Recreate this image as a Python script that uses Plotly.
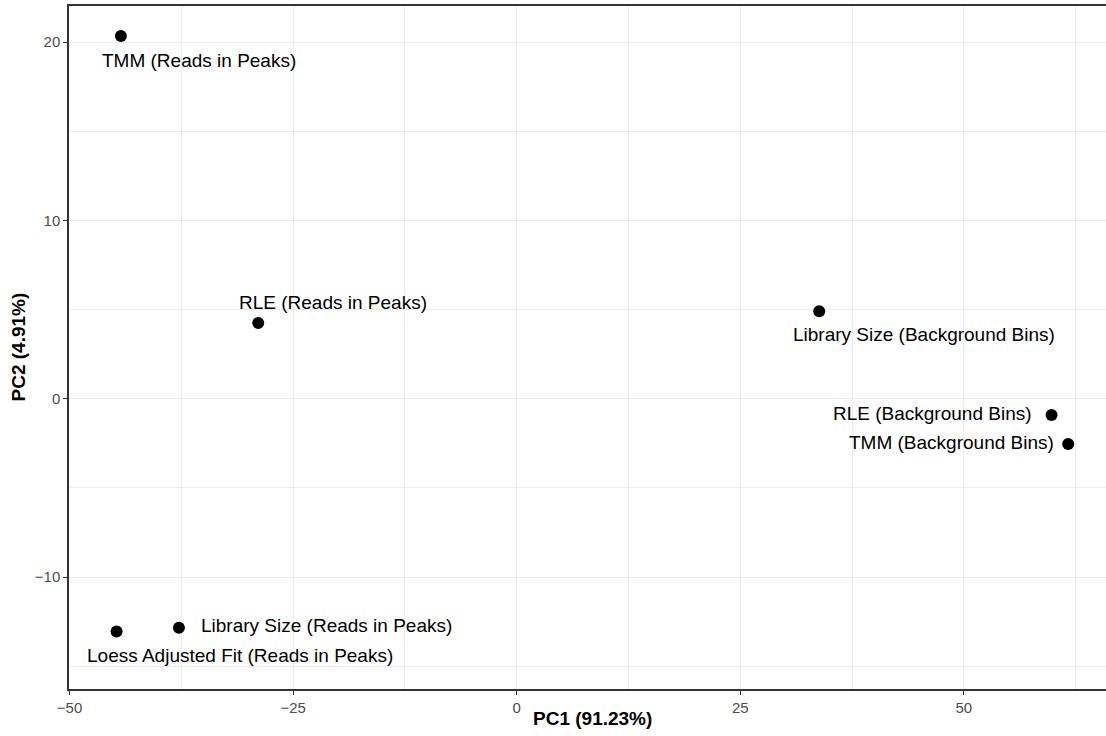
import plotly.graph_objects as go

# ---- data ----
labels = [
    "TMM (Reads in Peaks)",
    "RLE (Reads in Peaks)",
    "Library Size (Background Bins)",
    "RLE (Background Bins)",
    "TMM (Background Bins)",
    "Library Size (Reads in Peaks)",
    "Loess Adjusted Fit (Reads in Peaks)",
]
pc1 = [-44.26, -28.9, 33.83, 59.81, 61.67, -37.77, -44.74]
pc2 = [20.34, 4.24, 4.90, -0.91, -2.54, -12.84, -13.05]

x_title = "PC1 (91.23%)"
y_title = "PC2 (4.91%)"
x_ticks = [-50, -25, 0, 25, 50]
y_ticks = [-10, 0, 10, 20]

# label placement (pixel offsets from point, like ggrepel): (xshift, yshift, xanchor)
label_offsets = [
    (78, -25, "center"),
    (75, 21, "center"),
    (105, -23, "center"),
    (-18, 1, "right"),
    (-12, 1, "right"),
    (20, 2, "left"),
    (123, -24, "center"),
]

FONT = "Liberation Sans, Arial, Helvetica, sans-serif"
GRID = "#ebebeb"
AX = "#333333"

fig = go.Figure()
fig.add_trace(go.Scatter(
    x=pc1, y=pc2, mode="markers",
    marker=dict(color="black", size=12),
    hoverinfo="text", text=labels, showlegend=False,
))

annotations = []
for xv, yv, lab, (dx, dy, anc) in zip(pc1, pc2, labels, label_offsets):
    annotations.append(dict(
        x=xv, y=yv, xref="x", yref="y", text=lab, showarrow=False,
        xshift=dx, yshift=dy, xanchor=anc, yanchor="middle",
        font=dict(family=FONT, size=19, color="black"),
    ))

annotations.append(dict(
    x=0.505, y=0, xref="paper", yref="paper", yshift=-29, text="<b>" + x_title + "</b>",
    showarrow=False, xanchor="center", yanchor="middle",
    font=dict(family=FONT, size=19, color="black"),
))
annotations.append(dict(
    x=0, y=0.5, xref="paper", yref="paper", xshift=-51, text="<b>" + y_title + "</b>",
    showarrow=False, xanchor="center", yanchor="middle", textangle=-90,
    font=dict(family=FONT, size=19, color="black"),
))

fig.update_layout(
    width=1106, height=736,
    margin=dict(l=69, r=0, t=6, b=47),
    paper_bgcolor="white", plot_bgcolor="white",
    font=dict(family=FONT),
    annotations=annotations,
    xaxis=dict(
        range=[-50.06, 65.9], tickvals=x_ticks, ticktext=[str(v).replace("-", "\u2212") for v in x_ticks],
        showgrid=True, gridcolor=GRID, gridwidth=1.3, zeroline=False,
        showline=True, linecolor=AX, linewidth=1.5, mirror=True,
        ticks="outside", ticklen=4, tickwidth=1.3, tickcolor=AX,
        tickfont=dict(family=FONT, size=15, color="#4d4d4d"),
        minor=dict(tickvals=[-37.5, -12.5, 12.5, 37.5, 62.5], showgrid=True, gridcolor=GRID, gridwidth=0.7, ticks=""),
    ),
    yaxis=dict(
        range=[-16.28, 22.02], tickvals=y_ticks, ticktext=[str(v).replace("-", "\u2212") for v in y_ticks],
        showgrid=True, gridcolor=GRID, gridwidth=1.3, zeroline=False,
        showline=True, linecolor=AX, linewidth=1.5, mirror=False,
        ticks="outside", ticklen=4, tickwidth=1.3, tickcolor=AX,
        tickfont=dict(family=FONT, size=15, color="#4d4d4d"),
        minor=dict(tickvals=[-15, -5, 5, 15], showgrid=True, gridcolor=GRID, gridwidth=0.7, ticks=""),
    ),
)

fig.write_html("out.html")
